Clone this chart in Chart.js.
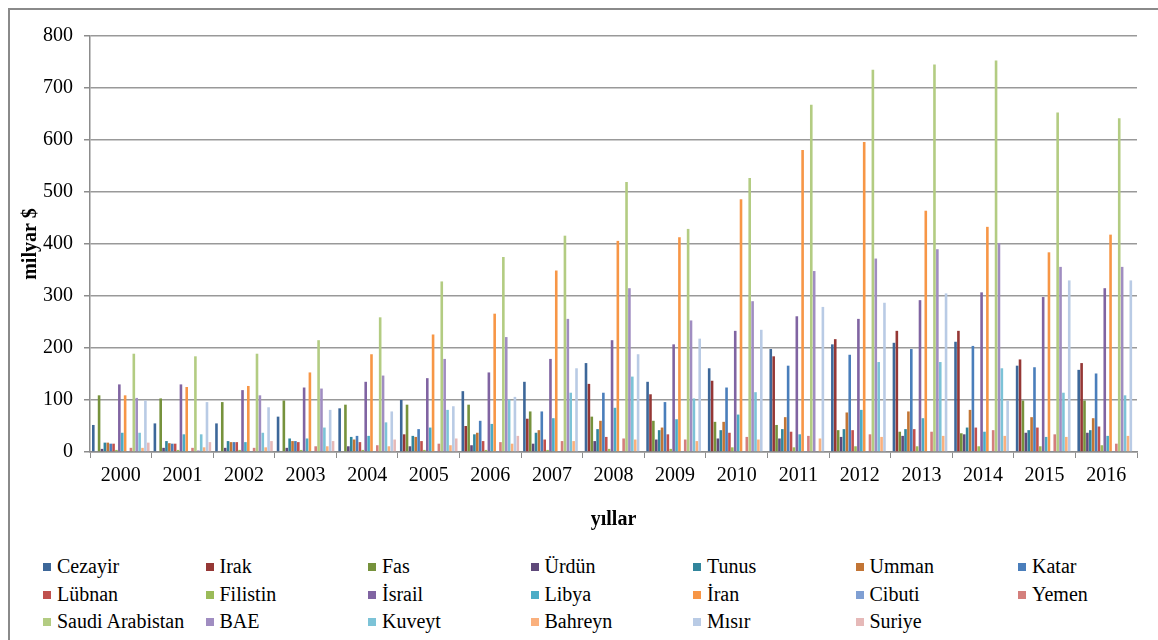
<!DOCTYPE html>
<html>
<head>
<meta charset="utf-8">
<script src="https://cdn.jsdelivr.net/npm/chart.js@4.4.1/dist/chart.umd.min.js"></script>
<style>
    body { margin: 0; background: #fff; width: 1158px; height: 640px; overflow: hidden; position: relative; }
    #frame { position: absolute; left: 8px; top: 8px; width: 1200px; height: 700px; border: 2px solid #8a8a8a; box-sizing: border-box; }
    #myChart { position: absolute; left: 0; top: 0; }
    #legend { position: absolute; left: 0; top: 0; font-family: "Liberation Serif", "Times New Roman", serif; font-size: 20px; color: #000; }
    .item { position: absolute; white-space: nowrap; line-height: 22px; }
    .item span.box { display: inline-block; width: 8px; height: 8px; margin-right: 6px; vertical-align: 2px; }
</style>
</head>
<body>
<div id="frame"></div>
<canvas id="myChart" width="1158" height="545"></canvas>
<div id="legend"></div>
<script>
// DATA (milyar $)

const years = ['2000','2001','2002','2003','2004','2005','2006','2007','2008','2009','2010','2011','2012','2013','2014','2015','2016'];

const cezayir  = [52, 55, 55, 68, 84, 100, 117, 135, 171, 135, 161, 198, 207, 210, 212, 166, 158];
const irak     = [null, null, null, null, null, 34, 50, 64, 131, 111, 137, 184, 217, 233, 233, 178, 171];
const fas      = [109, 103, 96, 99, 91, 91, 91, 78, 68, 60, 58, 52, 42, 39, 36, 99, 99];
const urdun    = [6, 8, 8, 8, 11, 11, 13, 16, 21, 24, 26, 26, 29, 31, 34, 37, 37];
const tunus    = [18, 21, 21, 26, 29, 31, 34, 37, 44, 42, 42, 44, 44, 44, 47, 42, 42];
const umman    = [18, 17, 19, 21, 24, 29, 37, 42, 60, 47, 58, 67, 76, 78, 81, 67, 65];
const katar    = [16, 16, 19, 21, 31, 44, 60, 78, 114, 96, 124, 166, 187, 198, 204, 163, 151];
const lubnan   = [16, 16, 19, 19, 19, 21, 21, 24, 29, 34, 37, 39, 42, 44, 47, 47, 49];
const filistin = [4, 4, 4, 4, 4, 4, 4, 4, 6, 6, 9, 9, 11, 11, 11, 11, 13];
const israil   = [130, 130, 119, 124, 135, 142, 153, 179, 215, 207, 233, 261, 256, 292, 307, 298, 315];
const libya    = [37, 34, 19, 26, 31, 47, 54, 65, 85, 63, 72, 34, 81, 65, 39, 29, 31];
const iran     = [109, 125, 127, 153, 188, 226, 266, 349, 406, 413, 486, 581, 596, 464, 433, 384, 418];
const cibuti   = [1, 1, 1, 1, 1, 1, 1, 1, 1, 1, 1, 1, 1, 1, 2, 2, 2];
const yemen    = [8, 8, 8, 11, 13, 16, 19, 21, 26, 24, 29, 31, 34, 39, 42, 34, 16];
const saudi    = [189, 184, 189, 215, 259, 328, 375, 416, 519, 429, 527, 668, 735, 745, 753, 653, 642];
const bae      = [104, 3, 109, 122, 147, 179, 221, 256, 315, 253, 290, 348, 372, 390, 402, 356, 356];
const kuveyt   = [37, 34, 37, 47, 57, 81, 101, 114, 145, 103, 115, null, 173, 173, 161, 114, 109];
const bahreyn  = [8, 9, 9, 11, 11, 13, 16, 21, 24, 21, 24, 26, 29, 31, 31, 29, 31];
const misir    = [99, 96, 86, 81, 78, 88, 106, 161, 188, 218, 235, 279, 287, 305, 99, 330, 330];
const suriye   = [18, 19, 21, 21, 24, 26, 31, null, null, null, null, null, null, null, null, null, null];

const seriesNames = ['Cezayir', 'Irak', 'Fas', 'Ürdün', 'Tunus', 'Umman', 'Katar',
                     'Lübnan', 'Filistin', 'İsrail', 'Libya', 'İran', 'Cibuti', 'Yemen',
                     'Saudi Arabistan', 'BAE', 'Kuveyt', 'Bahreyn', 'Mısır', 'Suriye'];
const seriesValues = [cezayir, irak, fas, urdun, tunus, umman, katar,
                      lubnan, filistin, israil, libya, iran, cibuti, yemen,
                      saudi, bae, kuveyt, bahreyn, misir, suriye];
const seriesColors = ['#3D6799', '#953735', '#76923C', '#5F497A', '#31859C', '#C27535', '#4A7EBB',
                      '#C0504D', '#9BBB59', '#8064A2', '#4BACC6', '#F79646', '#7F9FD3', '#D47F7C',
                      '#B3CC82', '#A08DC1', '#7CC3D7', '#FAB07D', '#B9CBE5', '#E6B9B8'];

const yTicks = [0, 100, 200, 300, 400, 500, 600, 700, 800];

// CHART

const serif = '"Liberation Serif", "Times New Roman", serif';
const axisGray = '#8c8c8c';

Chart.defaults.font.family = serif;
Chart.defaults.color = '#000';

const ctx = document.getElementById('myChart').getContext('2d');

new Chart(ctx, {
    type: 'bar',
    data: {
        labels: years,
        datasets: seriesNames.map((name, i) => ({
            label: name,
            data: seriesValues[i],
            backgroundColor: seriesColors[i],
            borderWidth: 0,
            categoryPercentage: 0.94,
            barPercentage: 0.9
        }))
    },
    options: {
        responsive: false,
        animation: false,
        devicePixelRatio: 1,
        layout: { padding: { left: 0, top: 36, right: 21, bottom: 0 } },
        plugins: {
            legend: { display: false },
            tooltip: { enabled: false }
        },
        scales: {
            x: {
                grid: { drawOnChartArea: false, drawTicks: true, tickLength: 6, color: axisGray, offset: true },
                border: { display: true, color: axisGray, width: 1.5 },
                ticks: { color: '#000', font: { family: serif, size: 20 }, padding: 6, maxRotation: 0 },
                title: { display: true, text: 'yıllar', color: '#000', font: { family: serif, size: 20, weight: 'bold' }, padding: { top: 4, bottom: 13 } },
                afterFit: scale => { scale.height = 93; }
            },
            y: {
                min: 0,
                max: 800,
                afterBuildTicks: scale => { scale.ticks = yTicks.map(v => ({ value: v })); },
                grid: { color: '#999999', lineWidth: 1.5, tickLength: 6, tickColor: axisGray },
                border: { display: true, color: axisGray, width: 1.5 },
                ticks: { color: '#000', font: { family: serif, size: 20 }, padding: 11 },
                title: { display: true, text: 'milyar $', color: '#000', font: { family: serif, size: 20, weight: 'bold' }, padding: { top: 19, bottom: 0 } },
                afterFit: scale => { scale.width = 90; }
            }
        }
    }
});

// LEGEND (7 columns, 3 rows)

const legend = document.getElementById('legend');
seriesNames.forEach((name, i) => {
    const col = i % 7;
    const row = Math.floor(i / 7);
    const item = document.createElement('div');
    item.className = 'item';
    item.style.left = (43 + col * 162.5) + 'px';
    item.style.top = (555 + row * 27.5) + 'px';
    item.innerHTML = '<span class="box" style="background:' + seriesColors[i] + '"></span>' + name;
    legend.appendChild(item);
});
</script>
</body>
</html>
